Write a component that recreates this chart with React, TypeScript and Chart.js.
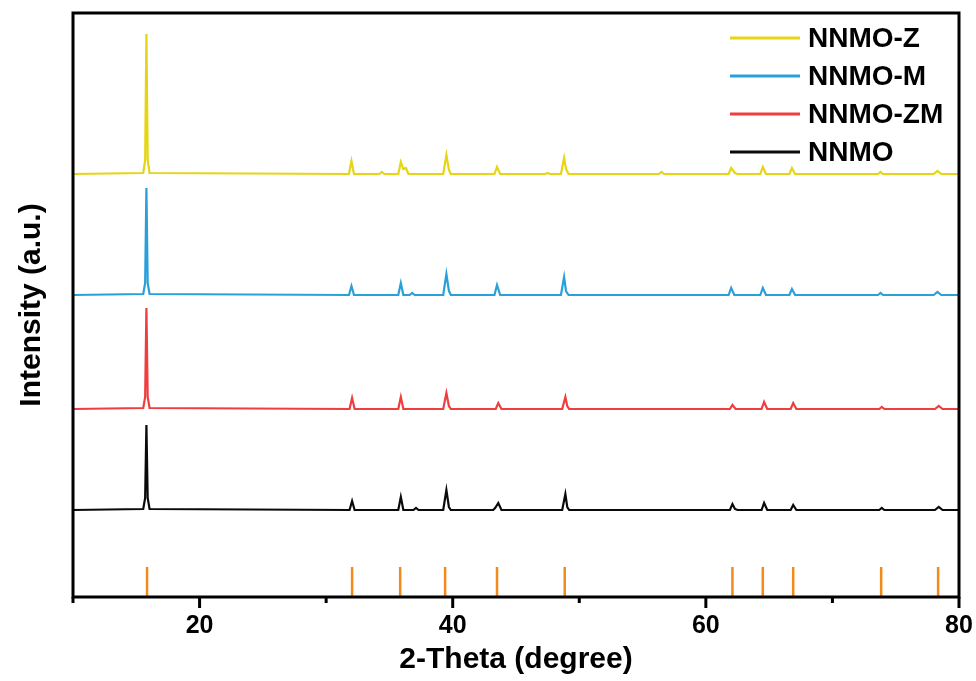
import React, { useEffect, useRef } from "react";
import { Chart, registerables } from "chart.js";

Chart.register(...registerables);

// Series labels (bottom to top) and colours
const seriesLabels = ["NNMO", "NNMO-ZM", "NNMO-M", "NNMO-Z"];
const seriesColors = ["#0a0a0a", "#ef3e3e", "#2aa0da", "#e6d514"];
// vertical stacking offsets (a.u.)
const seriesOffsets = [87, 188, 302, 423];

// 2-theta / relative intensity for each pattern
const nnmoX = [10, 15.55, 15.7, 15.8, 15.9, 16.05, 31.85, 32.05, 32.25, 35.7, 35.9, 36.1, 36.9, 37.1, 37.3, 39.25, 39.5, 39.7, 39.85, 43.2, 43.35, 43.6, 43.85, 48.65, 48.9, 49.05, 49.2, 61.9, 62.1, 62.3, 62.5, 64.4, 64.6, 64.85, 66.7, 66.9, 67.15, 73.7, 73.9, 74.1, 78.1, 78.4, 78.7, 80];
const nnmoY = [0, 1, 12, 85, 12, 1, 0, 9, 0, 0, 13, 0, 0, 2, 0, 0, 20, 3, 0, 0, 2, 7, 0, 0, 16, 3, 0, 0, 6, 1, 0, 0, 7, 0, 0, 5, 0, 0, 2, 0, 0, 3, 0, 0];

const zmX = [10, 15.55, 15.7, 15.8, 15.9, 16.05, 31.85, 32.05, 32.25, 35.7, 35.9, 36.1, 39.25, 39.5, 39.7, 39.85, 43.4, 43.6, 43.85, 48.65, 48.9, 49.05, 49.2, 61.9, 62.1, 62.35, 64.4, 64.6, 64.85, 66.7, 66.9, 67.15, 73.7, 73.9, 74.1, 78.1, 78.4, 78.7, 80];
const zmY = [0, 1, 12, 101, 12, 1, 0, 11, 0, 0, 12, 0, 0, 16, 3, 0, 0, 6, 0, 0, 12, 3, 0, 0, 4, 0, 0, 7, 0, 0, 6, 0, 0, 2, 0, 0, 3, 0, 0];

const mX = [10, 15.55, 15.7, 15.8, 15.9, 16.05, 31.8, 32.0, 32.2, 35.7, 35.9, 36.1, 36.6, 36.8, 37.0, 39.25, 39.5, 39.7, 39.85, 43.3, 43.5, 43.75, 48.55, 48.8, 48.95, 49.15, 61.8, 62.0, 62.25, 64.3, 64.5, 64.75, 66.6, 66.8, 67.05, 73.6, 73.8, 74.0, 78.0, 78.3, 78.6, 80];
const mY = [0, 1, 12, 107, 12, 1, 0, 9, 0, 0, 12, 0, 0, 2, 0, 0, 21, 4, 0, 0, 10, 0, 0, 18, 4, 0, 0, 7, 0, 0, 7, 0, 0, 6, 0, 0, 2, 0, 0, 3, 0, 0];

const zX = [10, 15.55, 15.7, 15.8, 15.9, 16.05, 31.8, 32.0, 32.2, 34.2, 34.4, 34.6, 35.7, 35.9, 36.1, 36.3, 36.5, 39.25, 39.5, 39.7, 39.85, 43.3, 43.5, 43.75, 47.3, 47.5, 47.7, 48.55, 48.8, 48.95, 49.15, 56.3, 56.5, 56.7, 61.8, 62.0, 62.3, 62.5, 64.3, 64.5, 64.75, 66.6, 66.8, 67.05, 73.6, 73.8, 74.0, 78.0, 78.3, 78.6, 80];
const zY = [0, 1, 14, 140, 14, 1, 0, 13, 0, 0, 2, 0, 0, 12, 5, 6, 0, 0, 19, 4, 0, 0, 7, 0, 0, 1, 0, 0, 16, 5, 0, 0, 2, 0, 0, 6, 1, 0, 0, 7, 0, 0, 6, 0, 0, 2, 0, 0, 3, 0, 0];

const seriesX = [nnmoX, zmX, mX, zX];
const seriesY = [nnmoY, zmY, mY, zY];

// reference (standard card) line positions and heights
const refPositions = [15.85, 32.05, 35.85, 39.4, 43.5, 48.85, 62.1, 64.5, 66.9, 73.85, 78.35];
const refHeights = [30, 30, 30, 30, 30, 30, 30, 30, 30, 30, 30];
const refColor = "#f28a1c";

const xTicksMajor = [20, 40, 60, 80];
const xTicksAll = [10, 20, 30, 40, 50, 60, 70, 80];

const FONT = "'Liberation Sans', Arial, sans-serif";

const framePlugin = {
  id: "frame",
  afterDatasetsDraw(chart: any) {
    const { ctx, chartArea } = chart;
    const xs = chart.scales.x;
    ctx.save();
    ctx.strokeStyle = "#000";
    ctx.lineWidth = 3;
    ctx.strokeRect(chartArea.left, chartArea.top, chartArea.right - chartArea.left, chartArea.bottom - chartArea.top);
    ctx.lineCap = "butt";
    for (const t of xTicksAll) {
      const px = xs.getPixelForValue(t);
      const len = xTicksMajor.includes(t) ? 11 : 6;
      ctx.beginPath();
      ctx.moveTo(px, chartArea.bottom);
      ctx.lineTo(px, chartArea.bottom + len);
      ctx.stroke();
    }
    // legend
    const order = [3, 2, 1, 0];
    ctx.font = `bold 28px ${FONT}`;
    ctx.textBaseline = "middle";
    ctx.textAlign = "left";
    order.forEach((di, i) => {
      const ds = chart.data.datasets[di];
      const y = 38 + i * 38;
      ctx.strokeStyle = ds.borderColor;
      ctx.lineWidth = 3;
      ctx.beginPath();
      ctx.moveTo(730, y);
      ctx.lineTo(800, y);
      ctx.stroke();
      ctx.fillStyle = "#000";
      ctx.fillText(ds.label, 808, y + 1);
    });
    ctx.restore();
  },
};

export default function App() {
  const ref = useRef<HTMLCanvasElement>(null);
  useEffect(() => {
    document.body.style.margin = "0";
    const datasets: any[] = seriesLabels.map((label, i) => ({
      label,
      data: seriesX[i].map((x, j) => ({ x, y: seriesY[i][j] + seriesOffsets[i] })),
      borderColor: seriesColors[i],
      backgroundColor: seriesColors[i],
      borderWidth: 2.2,
      pointRadius: 0,
      tension: 0,
    }));
    const refData: any[] = [];
    refPositions.forEach((p, i) => {
      refData.push({ x: p, y: 0 });
      refData.push({ x: p, y: refHeights[i] });
      refData.push({ x: p, y: null });
    });
    datasets.push({
      label: "ref",
      data: refData,
      borderColor: refColor,
      borderWidth: 2.5,
      pointRadius: 0,
      spanGaps: false,
    });
    const chart = new Chart(ref.current!, {
      type: "line",
      data: { datasets },
      plugins: [framePlugin],
      options: {
        animation: false,
        responsive: false,
        layout: { padding: { top: 13, right: 17, left: 0, bottom: 0 } },
        plugins: { legend: { display: false }, tooltip: { enabled: false } },
        scales: {
          x: {
            type: "linear",
            min: 10,
            max: 80,
            border: { display: false },
            grid: { display: false, drawTicks: false },
            ticks: {
              stepSize: 10,
              padding: 14,
              autoSkip: false,
              maxRotation: 0,
              color: "#000",
              font: { family: FONT, size: 25, weight: "bold" },
              callback: (v: any) => (xTicksMajor.includes(Number(v)) ? String(v) : ""),
            },
            title: {
              display: true,
              text: "2-Theta (degree)",
              color: "#000",
              font: { family: FONT, size: 30, weight: "bold" },
              padding: { top: 0, bottom: 3 },
            },
            afterFit: (s: any) => {
              s.height = 84;
              s.paddingLeft = 0;
              s.paddingRight = 0;
            },
          },
          y: {
            type: "linear",
            min: 0,
            max: 584,
            border: { display: false },
            grid: { display: false, drawTicks: false },
            ticks: { display: false },
            title: {
              display: true,
              text: "Intensity (a.u.)",
              color: "#000",
              font: { family: FONT, size: 30, weight: "bold" },
              padding: { top: 14, bottom: 0 },
            },
            afterFit: (s: any) => {
              s.width = 73;
              s.paddingTop = 0;
              s.paddingBottom = 0;
            },
          },
        },
      },
    } as any);
    return () => chart.destroy();
  }, []);
  return (
    <div style={{ width: 976, height: 681 }}>
      <canvas ref={ref} width={976} height={681} style={{ display: "block" }} />
    </div>
  );
}
